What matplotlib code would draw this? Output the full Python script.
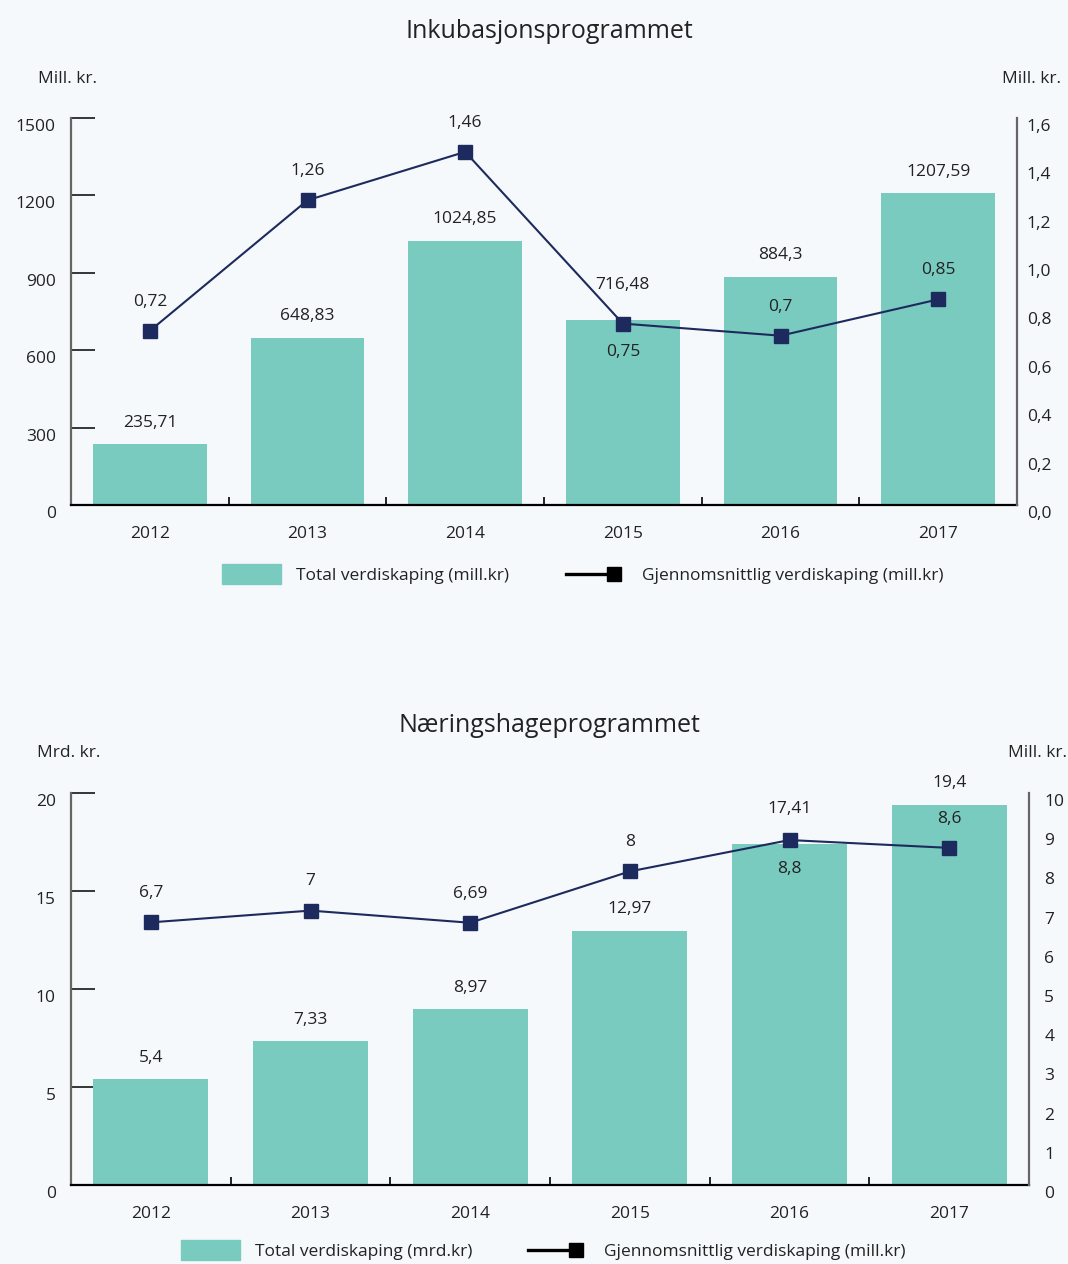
import matplotlib.pyplot as plt
from matplotlib.patches import Rectangle
from matplotlib.lines import Line2D
from matplotlib.transforms import ScaledTranslation

plt.rcParams['font.family'] = ['Open Sans', 'DejaVu Sans']

W, H = 1068, 1264
BG = '#f6f9fb'
BAR = '#7acbbf'
NAVY = '#1d2a5d'
TXT = '#222222'
FS = 12.5

years = ['2012', '2013', '2014', '2015', '2016', '2017']

# Inkubasjonsprogrammet
inkub_total = [235.71, 648.83, 1024.85, 716.48, 884.3, 1207.59]
inkub_avg = [0.72, 1.26, 1.46, 0.75, 0.7, 0.85]
inkub_left_ticks = [0, 300, 600, 900, 1200, 1500]
inkub_right_ticks = [0.0, 0.2, 0.4, 0.6, 0.8, 1.0, 1.2, 1.4, 1.6]

# Næringshageprogrammet
hage_total = [5.4, 7.33, 8.97, 12.97, 17.41, 19.4]
hage_avg = [6.7, 7, 6.69, 8, 8.8, 8.6]
hage_left_ticks = [0, 5, 10, 15, 20]
hage_right_ticks = [0, 1, 2, 3, 4, 5, 6, 7, 8, 9, 10]


def comma(v):
    return f'{v:g}'.replace('.', ',')


def px(x, y):
    # pixel position (from top-left) -> figure fraction
    return x / W, 1 - y / H


def panel(fig, left, top, right, bottom, totals, avgs, lticks, rticks,
          rfmt, rpad, bar_off, avg_below):
    x0, y0 = px(left, bottom)
    x1, y1 = px(right, top)
    ax = fig.add_axes([x0, y0, x1 - x0, y1 - y0])
    ax.set_facecolor('none')
    ax2 = ax.twinx()

    xs = range(len(years))
    ax.bar(xs, totals, width=0.72, color=BAR, zorder=2)
    ax.set_xlim(-0.5, len(years) - 0.5)
    ax.set_ylim(lticks[0], lticks[-1])
    ax.set_yticks(lticks, [comma(t) for t in lticks])
    ax.set_xticks(list(xs), years)
    ax.set_xticks([i - 0.5 for i in range(len(years) + 1)], minor=True)

    ax.tick_params(axis='x', which='major', length=0, pad=15,
                   labelsize=FS, labelcolor=TXT)
    ax.tick_params(axis='x', which='minor', direction='in', length=6,
                   width=1.2, color='black')
    ax.tick_params(axis='y', direction='in', length=17, width=1.1,
                   color='black', pad=11, labelsize=FS, labelcolor=TXT)
    for s in ('top', 'right'):
        ax.spines[s].set_visible(False)
    ax.spines['left'].set_color('#666666')
    ax.spines['left'].set_linewidth(1.6)
    ax.spines['bottom'].set_color('black')
    ax.spines['bottom'].set_linewidth(1.6)

    ax2.plot(xs, avgs, color=NAVY, lw=1.5, marker='s', markersize=10.5,
             zorder=3)
    ax2.set_ylim(rticks[0], rticks[-1])
    ax2.set_yticks(rticks, [rfmt(t) for t in rticks])
    ax2.tick_params(axis='y', length=0, pad=rpad, labelsize=FS,
                    labelcolor=TXT)
    for s in ('top', 'left', 'bottom'):
        ax2.spines[s].set_visible(False)
    ax2.spines['right'].set_color('#666666')
    ax2.spines['right'].set_linewidth(1.6)

    # tick labels sit a little below their ticks
    shift = ScaledTranslation(0, -0.07, fig.dpi_scale_trans)
    for lab in ax.get_yticklabels() + ax2.get_yticklabels():
        lab.set_transform(lab.get_transform() + shift)

    for i, v in enumerate(totals):
        ax.annotate(comma(v), (i, v), xytext=(0, bar_off[i]),
                    textcoords='offset points', ha='center', va='center',
                    fontsize=FS, color=TXT, zorder=4)
    for i, v in enumerate(avgs):
        dy = -20.5 if i in avg_below else 21
        ax2.annotate(comma(v), (i, v), xytext=(0, dy),
                     textcoords='offset points', ha='center', va='center',
                     fontsize=FS, color=TXT, zorder=4)
    return ax, ax2


def legend(fig, patch_x, y, text1_x, line_x, text2_x, label1, label2):
    x0, y0 = px(patch_x, y + 10)
    x1, y1 = px(patch_x + 59, y - 10)
    fig.add_artist(Rectangle((x0, y0), x1 - x0, y1 - y0, color=BAR,
                             transform=fig.transFigure))
    fig.text(*px(text1_x, y + 2), label1, ha='left', va='center',
             fontsize=FS, color=TXT)
    lx0, ly = px(line_x, y)
    lx1, _ = px(line_x + 48, y)
    fig.add_artist(Line2D([lx0, lx1], [ly, ly], color='black', lw=2.4,
                          transform=fig.transFigure))
    fig.add_artist(Line2D([lx1], [ly], color='black', marker='s',
                          markersize=10, transform=fig.transFigure))
    fig.text(*px(text2_x, y + 2), label2, ha='left', va='center',
             fontsize=FS, color=TXT)


fig = plt.figure(figsize=(W / 100, H / 100), dpi=100, facecolor=BG)

# top panel
fig.text(*px(549, 32), 'Inkubasjonsprogrammet', ha='center', va='center',
         fontsize=18, color=TXT)
fig.text(*px(68, 79), 'Mill. kr.', ha='center', va='center',
         fontsize=FS, color=TXT)
fig.text(*px(1031, 79), 'Mill. kr.', ha='center', va='center',
         fontsize=FS, color=TXT)
panel(fig, 71, 118, 1017, 505, inkub_total, inkub_avg,
      inkub_left_ticks, inkub_right_ticks, lambda t: f'{t:.1f}'.replace('.', ','),
      7, [15.5, 15.5, 15.5, 25, 15.5, 15.5], {3})
legend(fig, 222, 574, 296, 566, 642,
       'Total verdiskaping (mill.kr)', 'Gjennomsnittlig verdiskaping (mill.kr)')

# bottom panel
fig.text(*px(549, 726), 'Næringshageprogrammet', ha='center', va='center',
         fontsize=18, color=TXT)
fig.text(*px(69, 753), 'Mrd. kr.', ha='center', va='center',
         fontsize=FS, color=TXT)
fig.text(*px(1037, 753), 'Mill. kr.', ha='center', va='center',
         fontsize=FS, color=TXT)
panel(fig, 71, 793, 1029, 1185, hage_total, hage_avg,
      hage_left_ticks, hage_right_ticks, lambda t: f'{t:g}',
      11, [15.5, 15.5, 15.5, 15.5, 25, 15.5], {4})
legend(fig, 181, 1250, 255, 528, 604,
       'Total verdiskaping (mrd.kr)', 'Gjennomsnittlig verdiskaping (mill.kr)')

fig.savefig('out.png', dpi=100, facecolor=BG)
